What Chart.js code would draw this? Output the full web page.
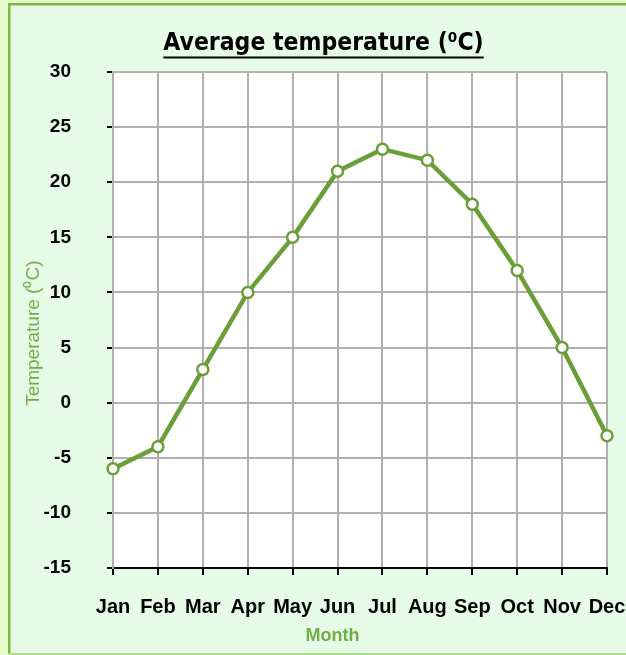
<!DOCTYPE html>
<html>
<head>
<meta charset="utf-8">
<script src="https://cdn.jsdelivr.net/npm/chart.js@4.4.1/dist/chart.umd.min.js"></script>
<style>
  html, body { margin: 0; padding: 0; background: #e6f9c9; overflow: hidden; }
  #wrap { position: absolute; left: 0; top: 0; width: 626px; height: 655px; }
</style>
</head>
<body>
<div id="wrap"><canvas id="c" width="626" height="655"></canvas></div>
<script>
const months = ["Jan","Feb","Mar","Apr","May","Jun","Jul","Aug","Sep","Oct","Nov","Dec"];
const temperatures = [-6, -4, 3, 10, 15, 21, 23, 22, 18, 12, 5, -3];
const yTicks = [-15, -10, -5, 0, 5, 10, 15, 20, 25, 30];
const chartTitle = "Average temperature (\u2070C)";
const yTitle = "Temperature (\u2070C)";
const xTitle = "Month";

const TITLE_SIZE = 24.5;
const TITLE_PAD_TOP = 29;
const TITLE_FONT = "'DejaVu Sans Condensed', 'Liberation Sans Narrow', sans-serif";

const framePlugin = {
  id: 'frame',
  beforeDraw(chart) {
    const ctx = chart.ctx;
    ctx.save();
    ctx.fillStyle = '#e6f9c9';
    ctx.fillRect(0, 0, chart.width, chart.height);
    ctx.fillStyle = '#e6fce6';
    ctx.fillRect(8, 3, chart.width, chart.height - 4);
    ctx.fillStyle = '#78bc45';
    ctx.fillRect(8, 3, 2.5, chart.height);
    ctx.fillRect(8, 3, chart.width, 2.5);
    ctx.fillStyle = '#a9dd88';
    ctx.fillRect(8, chart.height - 2, chart.width, 2);
    const a = chart.chartArea;
    ctx.fillStyle = '#ffffff';
    ctx.fillRect(a.left, a.top, a.right - a.left, a.bottom - a.top);
    ctx.restore();
  },
  afterDraw(chart) {
    const tb = chart.titleBlock;
    if (!tb) return;
    const ctx = chart.ctx;
    ctx.save();
    ctx.font = "bold " + TITLE_SIZE + "px " + TITLE_FONT;
    const w = ctx.measureText(chartTitle).width;
    const cx = (tb.left + tb.right) / 2;
    const midY = tb.top + TITLE_PAD_TOP + TITLE_SIZE * 1.2 / 2;
    const y = midY + TITLE_SIZE * 0.5 + 1.5;
    ctx.strokeStyle = '#000';
    ctx.lineWidth = 2;
    ctx.beginPath();
    ctx.moveTo(cx - w / 2, y);
    ctx.lineTo(cx + w / 2, y);
    ctx.stroke();
    ctx.restore();
  }
};

new Chart(document.getElementById('c'), {
  type: 'line',
  data: {
    labels: months,
    datasets: [{
      data: temperatures,
      borderColor: '#6a9f37',
      borderWidth: 4.5,
      pointRadius: 5.5,
      pointBorderWidth: 2.5,
      pointBackgroundColor: '#ffffff',
      pointBorderColor: '#6a9f37',
      tension: 0
    }]
  },
  options: {
    responsive: false,
    animation: false,
    devicePixelRatio: 1,
    layout: { padding: { left: 21, right: 0, top: 0, bottom: 0 } },
    plugins: {
      legend: { display: false },
      tooltip: { enabled: false },
      title: {
        display: true,
        text: chartTitle,
        color: '#000000',
        font: { family: TITLE_FONT, size: TITLE_SIZE, weight: 'bold', lineHeight: 1.2 },
        padding: { top: TITLE_PAD_TOP, bottom: 72 - TITLE_PAD_TOP - TITLE_SIZE * 1.2 }
      }
    },
    scales: {
      x: {
        type: 'category',
        offset: false,
        afterFit(scale) { scale.height = 87; scale.paddingRight = 19; },
        grid: { color: '#b0b0b0', lineWidth: 2, tickColor: '#000000', tickLength: 7, drawTicks: true },
        border: { color: '#000000', width: 2 },
        ticks: {
          color: '#000000',
          font: { family: "'Liberation Sans', Arial, sans-serif", size: 20, weight: 'bold' },
          maxRotation: 0, autoSkip: false, padding: 20
        },
        title: {
          display: true,
          text: xTitle + '\u00a0'.repeat(11),
          color: '#70ad47',
          font: { family: "'Liberation Sans', Arial, sans-serif", size: 18, weight: 'bold' },
          padding: { top: 0, bottom: 8 }
        }
      },
      y: {
        min: -15, max: 30,
        afterBuildTicks(scale) { scale.ticks = yTicks.map(v => ({ value: v })); },
        afterFit(scale) { scale.width = 92; },
        grid: { color: '#b0b0b0', lineWidth: 2, tickColor: '#000000', tickLength: 6 },
        border: { color: '#b0b0b0', width: 2 },
        ticks: {
          color: '#000000',
          font: { family: "'Liberation Sans', Arial, sans-serif", size: 19, weight: 'bold' },
          padding: 36
        },
        title: {
          display: true,
          text: yTitle + '\u00a0'.repeat(5),
          color: '#70ad47',
          font: { family: "'Liberation Sans', Arial, sans-serif", size: 19, weight: 'normal' },
          padding: { top: 1, bottom: 0 }
        }
      }
    }
  },
  plugins: [framePlugin]
});
</script>
</body>
</html>
